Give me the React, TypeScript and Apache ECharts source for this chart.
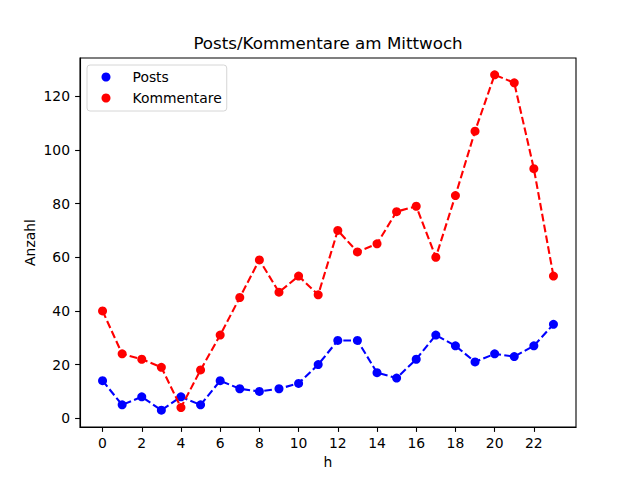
import React, { useEffect, useRef } from "react";
import * as echarts from "echarts";

const hours = [0, 1, 2, 3, 4, 5, 6, 7, 8, 9, 10, 11, 12, 13, 14, 15, 16, 17, 18, 19, 20, 21, 22, 23];
const posts = [14, 5, 8, 3, 8, 5, 14, 11, 10, 11, 13, 20, 29, 29, 17, 15, 22, 31, 27, 21, 24, 23, 27, 35];
const kommentare = [40, 24, 22, 19, 4, 18, 31, 45, 59, 47, 53, 46, 70, 62, 65, 77, 79, 60, 83, 107, 128, 125, 93, 53];
const xTicks = [0, 2, 4, 6, 8, 10, 12, 14, 16, 18, 20, 22];
const yTicks = [0, 20, 40, 60, 80, 100, 120];

const FONT = "DejaVu Sans";

export default function App() {
  const ref = useRef<HTMLDivElement>(null);
  useEffect(() => {
    document.body.style.margin = "0";
    const chart = echarts.init(ref.current!, null, { renderer: "svg", width: 640, height: 480 });
    const dash = [7.7, 3.3];
    const axisCommon = {
      splitLine: { show: false },
      axisLine: { show: true, onZero: false, lineStyle: { color: "#000", width: 1.1 } },
      axisTick: { show: true, inside: false, length: 4.9, lineStyle: { color: "#000", width: 1.1 } },
    };
    chart.setOption({
      animation: false,
      backgroundColor: "#fff",
      grid: {
        left: 80,
        right: 64,
        top: 58,
        bottom: 53,
        show: true,
        borderColor: "#000",
        borderWidth: 1.1,
        backgroundColor: "#fff",
      },
      xAxis: {
        type: "value",
        min: -1.15,
        max: 24.15,
        ...axisCommon,
        axisTick: { ...axisCommon.axisTick, customValues: xTicks },
        axisLabel: {
          customValues: xTicks,
          margin: 9,
          color: "#000",
          fontFamily: FONT,
          fontSize: 13.9,
        },
      },
      yAxis: {
        type: "value",
        min: -3.25,
        max: 134.25,
        ...axisCommon,
        axisTick: { ...axisCommon.axisTick, customValues: yTicks },
        axisLabel: {
          customValues: yTicks,
          margin: 10,
          color: "#000",
          fontFamily: FONT,
          fontSize: 13.9,
        },
      },
      legend: {
        data: ["Posts", "Kommentare"],
        orient: "vertical",
        left: 87,
        top: 65,
        padding: [5, 5, 6, 14.5],
        itemGap: 7,
        itemWidth: 9,
        itemHeight: 9,
        icon: "circle",
        backgroundColor: "#fff",
        borderColor: "#d6d6d6",
        borderWidth: 1,
        borderRadius: 3,
        formatter: "{t|{name}}",
        textStyle: {
          color: "#000",
          fontFamily: FONT,
          fontSize: 13.9,
          lineHeight: 14,
          rich: {
            t: {
              color: "#000",
              fontFamily: FONT,
              fontSize: 13.9,
              lineHeight: 14,
              padding: [0, 0, 0, 17],
            },
          },
        },
      },
      graphic: [
        {
          type: "text",
          x: 328,
          y: 43,
          style: {
            text: "Posts/Kommentare am Mittwoch",
            fontFamily: FONT,
            fontSize: 16.7,
            fill: "#000",
            align: "center",
            verticalAlign: "middle",
          },
        },
        {
          type: "text",
          x: 328,
          y: 461.5,
          style: {
            text: "h",
            fontFamily: FONT,
            fontSize: 13.9,
            fill: "#000",
            align: "center",
            verticalAlign: "middle",
          },
        },
        {
          type: "text",
          x: 30,
          y: 242.5,
          rotation: Math.PI / 2,
          style: {
            text: "Anzahl",
            fontFamily: FONT,
            fontSize: 13.9,
            fill: "#000",
            align: "center",
            verticalAlign: "middle",
          },
        },
      ],
      series: [
        {
          name: "Posts",
          type: "line",
          data: hours.map((h, i) => [h, posts[i]]),
          color: "#0000ff",
          symbol: "circle",
          symbolSize: 9,
          showAllSymbol: true,
          lineStyle: { color: "#0000ff", width: 2.1, type: dash },
          itemStyle: { color: "#0000ff" },
          z: 2,
        },
        {
          name: "Kommentare",
          type: "line",
          data: hours.map((h, i) => [h, kommentare[i]]),
          color: "#ff0000",
          symbol: "circle",
          symbolSize: 9,
          showAllSymbol: true,
          lineStyle: { color: "#ff0000", width: 2.1, type: dash },
          itemStyle: { color: "#ff0000" },
          z: 3,
        },
      ],
    });
    return () => chart.dispose();
  }, []);
  return (
    <div
      ref={ref}
      style={{ position: "absolute", left: 0, top: 0, width: 640, height: 480, background: "#fff" }}
    />
  );
}
